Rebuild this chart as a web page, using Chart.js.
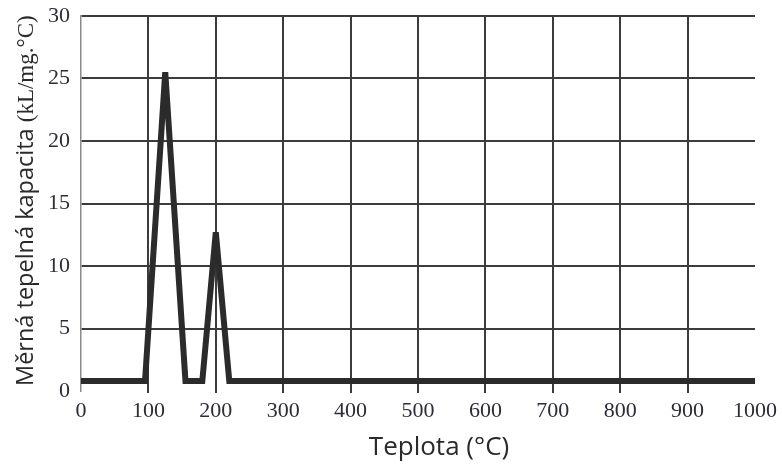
<!DOCTYPE html>
<html>
<head>
<meta charset="utf-8">
<script src="https://cdn.jsdelivr.net/npm/chart.js@4"></script>
<style>
  html, body { margin: 0; padding: 0; background: #fff; }
  #wrap { width: 782px; height: 464px; }
</style>
</head>
<body>
<div id="wrap"><canvas id="heatChart" width="782" height="464"></canvas></div>
<script>
// teplota (°C) a měrná tepelná kapacita v lomových bodech křivky
const teplota = [0, 95, 125, 155, 180, 200, 220, 1000];
const kapacita = [0.8, 0.8, 25.5, 0.8, 0.8, 12.7, 0.8, 0.8];

const xTitle = 'Teplota (°C)';
const yTitleMain = 'Měrná tepelná kapacita';
const yTitleUnit = '(kL/mg.°C)';

const tickFont = { family: '"Liberation Serif", serif', size: 22 };
const gridColor = '#3c3c3c';

// popisky os: y ve dvou písmech (text + jednotka patkovým písmem), x posunutý doprava
const axisTitlePlugin = {
    id: 'axisTitles',
    afterDraw(chart) {
        const ctx = chart.ctx;
        ctx.save();
        ctx.fillStyle = '#2a2a2a';
        ctx.textBaseline = 'alphabetic';

        ctx.font = '26px "Open Sans", sans-serif';
        ctx.textAlign = 'center';
        ctx.fillText(xTitle, 439, 455);

        ctx.translate(33, 386);
        ctx.rotate(-Math.PI / 2);
        ctx.textAlign = 'left';
        ctx.font = '23.5px "Open Sans", sans-serif';
        ctx.fillText(yTitleMain, 0, 0);
        const w = ctx.measureText(yTitleMain + ' ').width;
        ctx.font = '23px "Liberation Serif", serif';
        ctx.fillText(yTitleUnit, w, 0);
        ctx.restore();
    }
};

const ctx = document.getElementById('heatChart').getContext('2d');
new Chart(ctx, {
    type: 'line',
    data: {
        datasets: [{
            data: teplota.map((t, i) => ({ x: t, y: kapacita[i] })),
            borderColor: '#2b2b2b',
            borderWidth: 6,
            pointRadius: 0,
            tension: 0,
            fill: false,
            borderJoinStyle: 'miter'
        }]
    },
    options: {
        responsive: false,
        animation: false,
        layout: { padding: { top: 0, right: 24, left: 0, bottom: 0 } },
        plugins: {
            legend: { display: false },
            tooltip: { enabled: false }
        },
        scales: {
            x: {
                type: 'linear',
                min: 0,
                max: 1000,
                afterFit(scale) { scale.height = 73; },
                border: { display: false },
                grid: {
                    color: c => (c.tick.value === 0 || c.tick.value === 1000) ? 'rgba(0,0,0,0)' : gridColor,
                    lineWidth: 2,
                    drawTicks: true,
                    tickLength: 2
                },
                ticks: {
                    stepSize: 100,
                    color: '#2c2c3a',
                    font: tickFont,
                    padding: 5,
                    maxRotation: 0,
                    callback: v => String(v)
                }
            },
            y: {
                min: 0,
                max: 30,
                afterFit(scale) {
                    scale.width = 81;
                    scale.paddingTop = 16;
                },
                border: { display: true, color: '#8a8a8a', width: 1.5 },
                grid: {
                    color: c => c.tick.value === 0 ? 'rgba(0,0,0,0)' : gridColor,
                    lineWidth: 2,
                    drawTicks: false
                },
                ticks: {
                    stepSize: 5,
                    color: '#2c2c3a',
                    font: tickFont,
                    padding: 11
                }
            }
        }
    },
    plugins: [axisTitlePlugin]
});
</script>
</body>
</html>
